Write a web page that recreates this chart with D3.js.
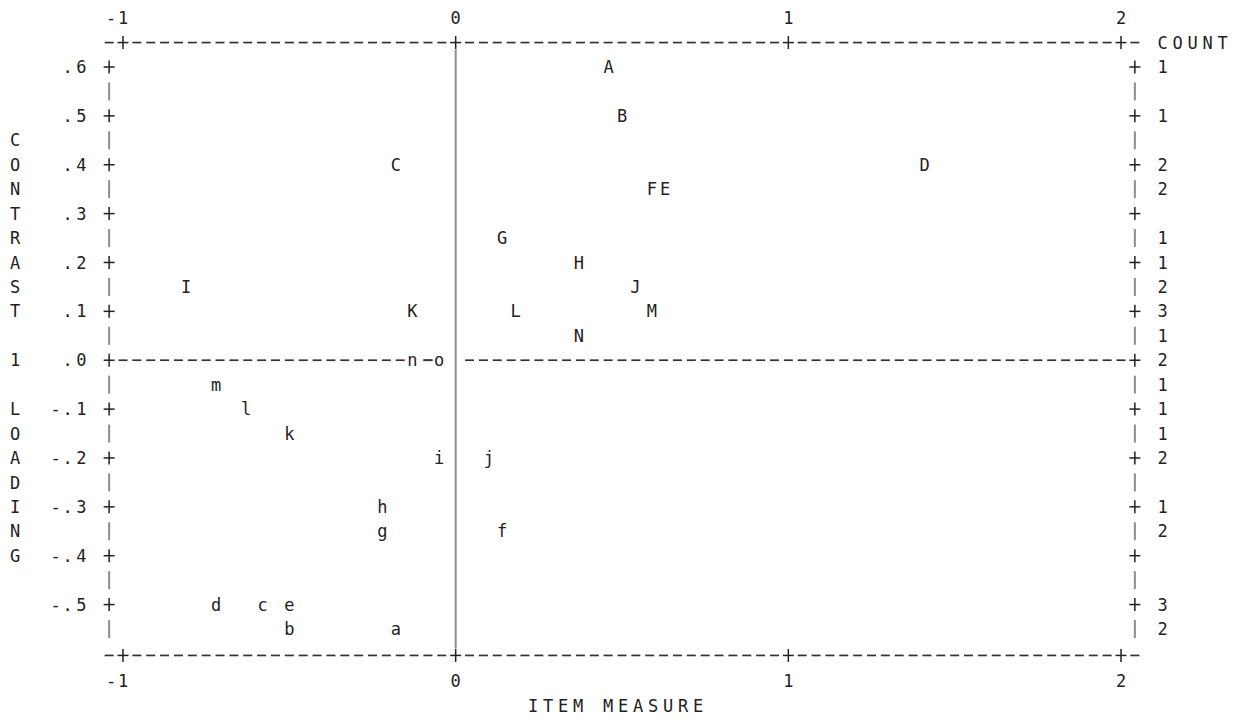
<!DOCTYPE html>
<html>
<head>
<meta charset="utf-8">
<script src="https://cdn.jsdelivr.net/npm/d3@7"></script>
<style>
  body { margin: 0; background: #fff; }
  text { font-family: "DejaVu Sans Mono", monospace; font-size: 17px; fill: #222; }
</style>
</head>
<body>
<svg id="chart" width="1254" height="721"></svg>
<script>
// item labels with their measure (x) and contrast 1 loading (y)
var labels   = ["A", "B", "C", "D", "F", "E", "G", "H", "I", "J", "K", "L", "M", "N",
                "n", "o", "m", "l", "k", "i", "j", "h", "g", "f", "d", "c", "e", "b", "a"];
var measures = [0.46, 0.50, -0.18, 1.41, 0.59, 0.63, 0.14, 0.37, -0.81, 0.54, -0.13, 0.18, 0.59, 0.37,
                -0.13, -0.05, -0.72, -0.63, -0.50, -0.05, 0.10, -0.22, -0.22, 0.14, -0.72, -0.58, -0.50, -0.50, -0.18];
var loadings = [0.60, 0.50, 0.40, 0.40, 0.35, 0.35, 0.25, 0.20, 0.15, 0.15, 0.10, 0.10, 0.10, 0.05,
                0.00, 0.00, -0.05, -0.10, -0.15, -0.20, -0.20, -0.30, -0.35, -0.35, -0.50, -0.50, -0.50, -0.55, -0.55];

var xTicks = [-1, 0, 1, 2];
var xTickLabels = ["-1", "0", "1", "2"];
var yTicks = [0.6, 0.5, 0.4, 0.3, 0.2, 0.1, 0.0, -0.1, -0.2, -0.3, -0.4, -0.5];
var yTickLabels = [".6", ".5", ".4", ".3", ".2", ".1", ".0", "-.1", "-.2", "-.3", "-.4", "-.5"];
var yTitle = "CONTRAST 1 LOADING";
var xTitle = "ITEM MEASURE";
var countTitle = "COUNT";

var svg = d3.select("#chart");

// text plot grid: 24 columns per logit, one row per .05
var x = d3.scaleLinear().domain([-1, 2]).range([123, 1121]);
var y = d3.scaleLinear().domain([0.6, -0.55]).range([67, 629]);
var colW = (x(2) - x(-1)) / 72;
function colX(k) { return x(-1) + k * colW; }
function colOf(v) { return Math.round((x(v) - x(-1)) / colW); }

var leftCol = -1, rightCol = 73;
var topY = y(0.65), botY = y(-0.6) + 2;

// write a string one char per cell (minus sign sits a bit closer)
function chars(g, str, x0, yy, pitch) {
  g.selectAll(null)
    .data(str.split(""))
    .enter()
    .append("text")
    .attr("x", function(d, i) { return x0 + i * pitch + (d === "-" && pitch > 0 ? 2 : 0); })
    .attr("y", yy)
    .attr("dy", "0.36em")
    .attr("text-anchor", "middle")
    .text(function(d) { return d; });
}

function plus(g, cx, cy) {
  g.append("line").attr("x1", cx - 5.5).attr("x2", cx + 5.5).attr("y1", cy).attr("y2", cy)
    .attr("stroke", "#222").attr("stroke-width", 1.5);
  g.append("line").attr("x1", cx).attr("x2", cx).attr("y1", cy - 6.5).attr("y2", cy + 6.5)
    .attr("stroke", "#222").attr("stroke-width", 1.5);
}

function dashRow(g, cy, cols) {
  g.selectAll(null)
    .data(cols)
    .enter()
    .append("line")
    .attr("x1", function(k) { return colX(k) - 4.5; })
    .attr("x2", function(k) { return colX(k) + 4.5; })
    .attr("y1", cy).attr("y2", cy)
    .attr("stroke", "#333").attr("stroke-width", 1.7);
}

var frame = svg.append("g");
var tickCols = xTicks.map(colOf);

// top and bottom borders
[topY, botY].forEach(function(by) {
  var cols = d3.range(leftCol, rightCol + 1).filter(function(k) { return tickCols.indexOf(k) < 0; });
  dashRow(frame, by, cols);
  tickCols.forEach(function(k) { plus(frame, colX(k), by); });
});

// zero loading line, broken where items sit on it
var zeroCols = loadings.map(function(v, i) { return v === 0 ? colOf(measures[i]) : null; })
  .filter(function(k) { return k !== null; });
var zeroLineCols = d3.range(0, rightCol).filter(function(k) {
  return zeroCols.indexOf(k) < 0 && k !== colOf(0);
});
dashRow(frame, y(0), zeroLineCols);
// dash between n and o
var zc = zeroCols.slice().sort(d3.ascending);
if (zc.length === 2) dashRow(frame, y(0), d3.range(zc[0] + 1, zc[1]));

// zero measure line
frame.append("line")
  .attr("x1", x(0)).attr("x2", x(0))
  .attr("y1", topY + 7).attr("y2", botY - 7)
  .attr("stroke", "#8c8c8c").attr("stroke-width", 2);

// left and right axes: + on ticks, | between
var halfRows = d3.range(0.55, -0.6, -0.1);
[leftCol, rightCol].forEach(function(k) {
  var cx = colX(k);
  frame.selectAll(null)
    .data(halfRows)
    .enter()
    .append("line")
    .attr("x1", cx).attr("x2", cx)
    .attr("y1", function(d) { return y(d) - 9; })
    .attr("y2", function(d) { return y(d) + 9; })
    .attr("stroke", "#8c8c8c").attr("stroke-width", 2);
  yTicks.forEach(function(t) { plus(frame, cx, y(t)); });
});

// x tick labels, top and bottom
var labelsG = svg.append("g");
xTicks.forEach(function(t, i) {
  var s = xTickLabels[i];
  var x0 = x(t) - (s.length - 1) * colW;
  chars(labelsG, s, x0, y(0.7), colW);
  chars(labelsG, s, x0, botY + 25, colW);
});

// y tick labels, right aligned on column -3
yTicks.forEach(function(t, i) {
  var s = yTickLabels[i];
  chars(labelsG, s, colX(-3) - (s.length - 1) * colW, y(t), colW);
});

// axis titles
yTitle.split("").forEach(function(c, i) {
  if (c !== " ") chars(labelsG, c, 15, y(0.45 - i * 0.05), 0);
});
chars(labelsG, xTitle, 533, y(-0.7) + 4, 15);
chars(labelsG, countTitle, colX(75), topY, 15);

// count of items per row
var counts = d3.rollups(loadings, function(v) { return v.length; }, function(d) { return d; });
counts.forEach(function(c) {
  chars(labelsG, String(c[1]), colX(75), y(c[0]), colW);
});

// item letters
svg.append("g")
  .selectAll("text")
  .data(labels)
  .enter()
  .append("text")
  .attr("x", function(d, i) { return x(measures[i]); })
  .attr("y", function(d, i) { return y(loadings[i]); })
  .attr("dy", "0.36em")
  .attr("text-anchor", "middle")
  .text(function(d) { return d; });
</script>
</body>
</html>
